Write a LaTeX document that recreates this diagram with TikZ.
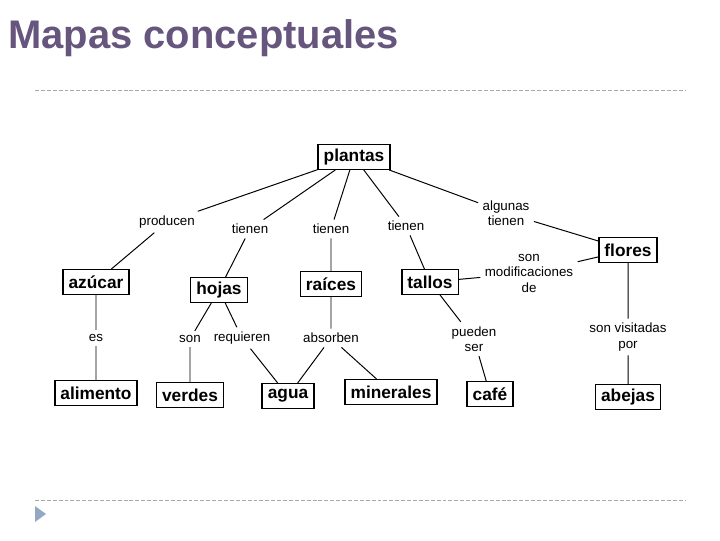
\documentclass[tikz,border=0pt]{standalone}
\usepackage{fontspec}
\setmainfont{Liberation Sans}
\usetikzlibrary{positioning}
\definecolor{mcTitle}{HTML}{66557D}
\definecolor{mcRule}{HTML}{A8A8A8}
\definecolor{mcMark}{HTML}{94A8C4}
\tikzset{
  concept/.style  = {draw=black, line width=1pt, inner xsep=4pt, inner ysep=2pt,
                     minimum height=17.5pt, font=\fontsize{12.3}{14}\selectfont\bfseries},
  linkword/.style = {align=center, inner sep=3pt, font=\fontsize{9.5}{11}\selectfont},
  link/.style     = {black, line width=0.7pt},
  rule/.style     = {mcRule, line width=0.6pt, dash pattern=on 2.8pt off 1.4pt},
}

\begin{document}
\begin{tikzpicture}[x=0.025cm,y=-0.025cm]
  \useasboundingbox (0,0) rectangle (720,540);
  \node[anchor=base west, inner sep=0pt, text=mcTitle,
        font=\fontsize{28.4}{32}\selectfont\bfseries] (title) at (8,48) {Mapas conceptuales};
  \draw[rule] (35,90) -- (685,90);
  \draw[rule] (35,500) -- (685,500);
  \fill[mcMark] (35,506) -- (46,514) -- (35,522) -- cycle;
  % concepts
  \node[concept] (plantas)   at (354,157) {plantas};
  \node[concept] (azucar)    at (96,282)  {azúcar};
  \node[concept] (hojas)     at (219,290) {hojas};
  \node[concept] (raices)    at (331,284) {raíces};
  \node[concept] (tallos)    at (430,282) {tallos};
  \node[concept] (flores)    at (628,250) {flores};
  \node[concept] (alimento)  at (96,393)  {alimento};
  \node[concept] (verdes)    at (190,395) {verdes};
  \node[concept] (agua)      at (288,396) {agua};
  \node[concept] (minerales) at (391,392) {minerales};
  \node[concept] (cafe)      at (490,394) {café};
  \node[concept] (abejas)    at (628,397) {abejas};
  % linking words
  \node[linkword] (producen)  at (167,222) {producen};
  \node[linkword] (tienenH)   at (250,229) {tienen};
  \node[linkword] (tienenR)   at (331,229) {tienen};
  \node[linkword] (tienenT)   at (406,226) {tienen};
  \node[linkword] (algunas)   at (506,213) {algunas\\tienen};
  \node[linkword] (modif)     at (529,273) {son\\modificaciones\\de};
  \node[linkword] (es)        at (96,338)  {es};
  \node[linkword] (son)       at (190,339) {son};
  \node[linkword] (requieren) at (242,338) {requieren};
  \node[linkword] (absorben)  at (331,338) {absorben};
  \node[linkword] (pueden)    at (474,339) {pueden\\ser};
  \node[linkword] (visitadas) at (628,337) {son visitadas\\por};
  % propositions
  \draw[link] (plantas) -- (producen) -- (azucar) -- (es) -- (alimento);
  \draw[link] (plantas) -- (tienenH) -- (hojas);
  \draw[link] (plantas) -- (tienenR) -- (raices) -- (absorben);
  \draw[link] (plantas) -- (tienenT) -- (tallos) -- (modif) -- (flores);
  \draw[link] (plantas) -- (algunas) -- (flores) -- (visitadas) -- (abejas);
  \draw[link] (hojas) -- (son) -- (verdes);
  \draw[link] (hojas) -- (requieren) -- (agua);
  \draw[link] (absorben) -- (agua);
  \draw[link] (absorben) -- (minerales);
  \draw[link] (tallos) -- (pueden) -- (cafe);
\end{tikzpicture}
\end{document}
